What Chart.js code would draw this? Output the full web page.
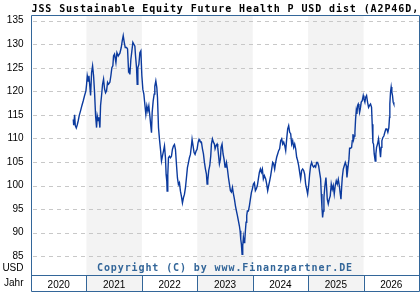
<!DOCTYPE html>
<html><head><meta charset="utf-8">
<script src="https://cdn.jsdelivr.net/npm/chart.js@4/dist/chart.umd.min.js"></script>
<style>html,body{margin:0;padding:0;background:#fff;overflow:hidden}</style>
</head><body>
<canvas id="c" width="420" height="300"></canvas>
<script>
const titleText = "JSS Sustainable Equity Future Health P USD dist (A2P46D,";
const copyrightText = "Copyright (C) by www.Finanzpartner.DE";
const yearLabels = [2020, 2021, 2022, 2023, 2024, 2025, 2026];
const shadedYears = [2021, 2023, 2025];
const yTicks = [85, 90, 95, 100, 105, 110, 115, 120, 125, 130, 135];

const dates = [
2020.763,2020.770,2020.787,2020.799,2020.817,2020.835,2020.853,2020.871,2020.895,2020.919,2020.943,2020.967,2020.991,
2021.003,2021.015,2021.033,2021.045,2021.063,2021.075,2021.093,2021.111,2021.129,2021.147,2021.165,2021.183,2021.195,
2021.213,2021.225,2021.243,2021.255,2021.273,2021.291,2021.309,2021.327,2021.345,2021.363,2021.381,2021.399,2021.423,
2021.441,2021.459,2021.477,2021.489,2021.507,2021.532,2021.550,2021.574,2021.604,2021.628,2021.646,2021.664,2021.682,
2021.700,2021.724,2021.742,2021.760,2021.772,2021.784,2021.802,2021.820,2021.838,2021.856,
2021.874,2021.886,2021.904,2021.916,2021.928,2021.946,2021.964,2021.982,2022.000,2022.018,2022.036,2022.054,2022.072,
2022.090,2022.108,2022.126,2022.144,2022.162,2022.174,2022.186,2022.204,2022.222,2022.234,2022.252,2022.270,2022.282,
2022.300,2022.318,2022.336,2022.354,2022.372,2022.390,2022.408,2022.426,2022.438,2022.450,2022.456,2022.468,2022.480,
2022.498,2022.516,2022.534,2022.552,2022.570,2022.588,2022.606,2022.624,2022.642,2022.660,2022.678,2022.696,2022.714,
2022.732,2022.750,2022.768,2022.786,2022.804,2022.822,2022.840,2022.858,2022.876,2022.894,2022.906,2022.924,2022.942,
2022.960,2022.978,2022.996,2023.014,2023.032,
2023.045,2023.075,2023.093,2023.111,2023.129,2023.147,2023.165,2023.177,2023.189,2023.207,2023.225,2023.243,2023.255,
2023.273,2023.291,2023.309,2023.321,2023.339,2023.357,2023.369,2023.387,2023.399,2023.417,2023.429,2023.447,2023.465,
2023.483,2023.501,2023.514,2023.526,2023.544,2023.562,2023.580,2023.598,2023.616,2023.634,2023.652,2023.670,2023.688,
2023.706,2023.724,2023.742,2023.760,2023.772,2023.784,2023.796,2023.808,2023.820,2023.832,2023.844,2023.856,2023.868,
2023.880,2023.892,2023.904,2023.922,2023.940,2023.958,2023.976,2023.994,2024.012,2024.030,2024.048,2024.066,2024.084,
2024.102,2024.120,2024.138,2024.156,2024.174,2024.192,2024.210,
2024.234,2024.252,2024.270,2024.288,2024.306,2024.324,2024.342,2024.360,2024.378,2024.396,2024.414,2024.432,2024.450,
2024.468,2024.486,2024.505,2024.523,2024.541,2024.559,2024.577,2024.595,2024.613,2024.631,2024.649,2024.667,2024.685,
2024.703,2024.721,2024.739,2024.757,2024.775,2024.793,2024.811,2024.829,2024.847,2024.865,2024.883,2024.901,2024.919,
2024.937,2024.955,2024.973,2024.991,2025.009,2025.027,2025.045,2025.063,2025.081,2025.099,2025.117,2025.135,2025.153,
2025.171,2025.189,2025.207,2025.225,2025.237,2025.249,2025.261,2025.273,2025.285,2025.303,2025.321,2025.333,2025.345,
2025.363,2025.381,2025.399,
2025.417,2025.435,2025.453,2025.471,2025.489,2025.507,2025.526,2025.544,2025.562,2025.580,2025.592,2025.604,2025.616,
2025.634,2025.652,2025.670,2025.688,2025.700,2025.718,2025.736,2025.748,2025.766,2025.784,2025.796,2025.808,2025.820,
2025.832,2025.844,2025.856,2025.868,2025.880,2025.892,2025.904,2025.916,2025.928,2025.940,2025.958,2025.976,2025.994,
2026.006,2026.024,2026.036,2026.054,2026.072,2026.090,2026.108,2026.126,2026.144,2026.156,2026.168,2026.180,2026.192,
2026.210,2026.222,2026.234,2026.252,2026.270,2026.288,2026.306,2026.318,2026.330,2026.348,2026.366,2026.384,2026.402,
2026.420,2026.438,2026.456,2026.468,2026.474,2026.486,2026.498,2026.510,2026.522,2026.534,2026.546
];
const prices = [
114.0,112.8,115.0,112.7,112.2,112.9,113.8,114.9,115.9,117.0,118.0,119.1,120.1,
121.5,123.3,122.2,123.3,120.8,119.1,124.0,125.4,123.3,119.7,114.8,112.3,114.8,
113.8,114.5,112.3,117.0,119.1,121.5,122.6,120.5,119.7,120.1,121.9,121.5,121.9,
123.3,125.0,125.4,127.5,127.9,126.1,128.2,127.5,128.1,129.3,130.7,131.8,130.4,
129.3,129.3,129.0,124.3,124.6,123.6,126.8,128.6,130.4,130.0,
129.6,127.5,125.0,121.5,125.0,125.7,128.2,128.6,123.3,120.4,119.4,117.2,115.1,
116.9,115.8,116.9,114.8,112.6,111.2,115.5,117.9,119.4,121.1,122.2,120.8,118.7,
112.3,109.8,107.7,105.2,106.3,107.3,108.4,105.9,102.3,100.9,98.8,102.3,105.9,
106.2,105.9,106.2,107.7,108.4,108.7,107.7,104.5,101.6,100.2,100.6,98.8,97.7,
96.3,97.4,98.1,99.5,101.6,103.8,104.8,105.9,106.6,108.4,109.8,108.4,107.0,
106.6,107.3,107.7,109.1,109.8,
109.5,109.2,107.8,106.7,104.9,103.5,102.4,100.3,101.0,103.2,104.2,106.3,108.8,
109.9,109.2,108.8,107.8,108.5,108.8,108.1,106.0,104.6,105.6,108.1,108.8,106.7,
105.6,103.9,104.2,104.9,103.5,101.7,100.3,98.9,98.6,99.6,98.2,97.1,95.7,
94.6,93.6,92.5,91.4,90.4,88.6,87.5,85.4,87.2,89.0,87.9,88.2,90.4,
92.2,93.6,94.6,94.6,95.7,97.1,98.5,99.3,100.3,100.6,98.9,99.3,100.0,
101.4,102.8,103.5,102.8,103.5,101.4,102.1,
101.4,100.3,98.9,100.0,101.0,102.1,103.5,104.9,104.6,103.5,104.9,106.0,106.7,
107.4,107.8,109.5,109.9,108.8,109.2,108.5,107.4,109.9,112.0,112.7,111.3,111.0,
108.8,109.5,108.1,108.8,107.8,106.0,105.3,104.2,102.8,101.4,103.2,103.5,103.2,
102.4,100.3,99.3,98.2,100.0,102.4,104.2,104.9,104.2,103.9,104.2,103.9,104.9,
104.9,104.2,102.8,101.4,98.2,95.4,93.2,94.6,97.5,100.0,101.7,99.6,97.1,
96.1,97.1,97.8,
100.3,99.2,100.0,98.2,100.0,101.0,100.3,101.3,100.0,98.2,97.1,99.6,101.7,
103.5,104.2,104.9,104.2,101.7,103.8,105.6,107.9,107.9,108.1,109.5,110.9,109.8,
110.5,111.3,114.1,115.9,115.2,117.0,117.3,116.6,115.5,116.2,117.7,118.0,119.1,
118.4,117.7,118.7,119.1,117.7,116.6,117.0,117.3,116.6,113.0,109.1,108.8,106.7,
105.2,106.7,108.1,108.8,109.9,108.1,106.0,108.1,109.5,110.2,110.5,111.3,112.0,
112.0,111.3,112.3,114.5,117.3,119.8,120.9,119.8,119.1,117.7,117.3
];

const FRAME = '#336699';
const BOX_BOTTOM = 291.5;
const axisFont = {family: '"Liberation Sans", Arial, sans-serif', size: 10};

const deco = {
  id: 'deco',
  beforeDraw(chart) {
    const {ctx, chartArea: a, scales: {x, y}} = chart;
    ctx.save();
    ctx.fillStyle = '#ffffff';
    ctx.fillRect(0, 0, chart.width, chart.height);
    ctx.fillStyle = '#f3f3f3';
    shadedYears.forEach(yr => {
      const l = x.getPixelForValue(yr), r = x.getPixelForValue(yr + 1);
      ctx.fillRect(l, a.top, r - l, BOX_BOTTOM - a.top);
    });
    ctx.strokeStyle = '#c8c8c8';
    ctx.lineWidth = 1;
    ctx.setLineDash([4, 4]);
    yTicks.forEach(v => {
      const py = Math.round(y.getPixelForValue(v)) + 0.5;
      ctx.beginPath(); ctx.moveTo(a.left + 2, py); ctx.lineTo(a.right, py); ctx.stroke();
    });
    ctx.setLineDash([]);
    ctx.font = 'bold 10px "DejaVu Sans Mono", monospace';
    ctx.letterSpacing = '0.9px';
    ctx.fillStyle = FRAME;
    ctx.textAlign = 'center';
    ctx.textBaseline = 'middle';
    ctx.fillText(copyrightText, (a.left + a.right) / 2, 268.5);
    ctx.restore();
  },
  afterDraw(chart) {
    const {ctx, chartArea: a, scales: {x}} = chart;
    ctx.save();
    ctx.strokeStyle = FRAME;
    ctx.lineWidth = 1;
    const L = a.left + 0.5, R = a.right + 0.5, T = a.top + 0.5, B = Math.round(a.bottom) + 0.5;
    ctx.beginPath();
    ctx.moveTo(L, T); ctx.lineTo(R, T);
    ctx.moveTo(L, T); ctx.lineTo(L, BOX_BOTTOM);
    ctx.moveTo(R, T); ctx.lineTo(R, BOX_BOTTOM);
    ctx.moveTo(L, B); ctx.lineTo(R, B);
    ctx.moveTo(L, BOX_BOTTOM); ctx.lineTo(R, BOX_BOTTOM);
    yearLabels.slice(1).forEach(yr => {
      const px = Math.round(x.getPixelForValue(yr)) + 0.5;
      ctx.moveTo(px, B); ctx.lineTo(px, BOX_BOTTOM);
    });
    ctx.stroke();
    // title
    ctx.font = 'bold 10px "DejaVu Sans Mono", monospace';
    ctx.letterSpacing = '0.9px';
    ctx.fillStyle = '#000';
    ctx.textAlign = 'left';
    ctx.textBaseline = 'alphabetic';
    ctx.fillText(titleText, 31.5, 11.5);
    // unit labels
    ctx.letterSpacing = '0px';
    ctx.font = '10px "Liberation Sans", Arial, sans-serif';
    ctx.textAlign = 'right';
    ctx.textBaseline = 'middle';
    ctx.fillText('USD', 23.5, 268.5);
    ctx.fillText('Jahr', 23.5, 283.5);
    ctx.restore();
  }
};

new Chart(document.getElementById('c'), {
  type: 'line',
  data: {
    datasets: [{
      data: dates.map((d, i) => ({x: d, y: prices[i]})),
      borderColor: '#0b3a9e',
      borderWidth: 1.4,
      pointRadius: 0,
      tension: 0,
      fill: false
    }]
  },
  options: {
    responsive: false,
    animation: false,
    devicePixelRatio: 1,
    layout: {padding: {top: 15, right: 1, left: 0, bottom: 0}},
    plugins: {legend: {display: false}, tooltip: {enabled: false}, title: {display: false}},
    scales: {
      x: {
        type: 'linear', min: 2020, max: 2027,
        afterBuildTicks: s => { s.ticks = yearLabels.map(v => ({value: v + 0.5})); },
        afterFit: s => { s.height = 25; },
        ticks: {font: axisFont, color: '#000', padding: 4, maxRotation: 0, autoSkip: false,
                callback: v => String(Math.floor(v))},
        grid: {display: false, drawTicks: false},
        border: {display: false}
      },
      y: {
        min: 81.0, max: 136.2,
        afterBuildTicks: s => { s.ticks = yTicks.map(v => ({value: v})); },
        afterFit: s => { s.width = 31; },
        ticks: {font: axisFont, color: '#000', padding: 7.5},
        grid: {display: false, drawTicks: false},
        border: {display: false}
      }
    }
  },
  plugins: [deco]
});
</script>
</body></html>
